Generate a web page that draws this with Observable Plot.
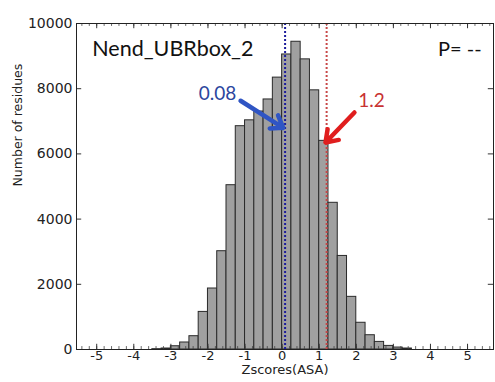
<!DOCTYPE html>
<html>
<head>
<meta charset="utf-8">
<script src="https://cdn.jsdelivr.net/npm/d3@7"></script>
<script src="https://cdn.jsdelivr.net/npm/@observablehq/plot@0.6"></script>
<style>
  html, body { margin: 0; padding: 0; background: #fff; }
  #chart { width: 495px; height: 382px; }
</style>
</head>
<body>
<div id="chart"></div>
<script>
// Histogram bins (left edges, width 0.25) and counts
const binStarts = [-3.5, -3.25, -3, -2.75, -2.5, -2.25, -2, -1.75, -1.5, -1.25,
                   -1, -0.75, -0.5, -0.25, 0, 0.25, 0.5, 0.75, 1, 1.25,
                   1.5, 1.75, 2, 2.25, 2.5, 2.75, 3, 3.25];
const counts = [10, 30, 100, 215, 408, 1153, 1871, 3015, 5040, 6850,
                7030, 7300, 7670, 8340, 9050, 9440, 8900, 7950, 6400, 4500,
                2870, 1615, 820, 438, 233, 110, 60, 30];
const binWidth = 0.25;

const xTicks = [-5, -4, -3, -2, -1, 0, 1, 2, 3, 4, 5];
const yTicks = [0, 2000, 4000, 6000, 8000, 10000];

const title = "Nend_UBRbox_2";
const pText = "P= --";
const markers = [
  {value: 0.08, label: "0.08", color: "#1c1c9c", textColor: "#2b469e", arrowColor: "#2f55c4",
   tx: -1.74, ty: 7850, ax1: -1.12, ay1: 7630, ax2: 0.03, ay2: 6800},
  {value: 1.2, label: "1.2", color: "#c84848", textColor: "#c83232", arrowColor: "#e01e1e",
   tx: 2.41, ty: 7630, ax1: 1.95, ay1: 7270, ax2: 1.17, ay2: 6350}
];

const xDomain = [-5.545, 5.70];
const yDomain = [0, 10000];

const bins = binStarts.map((b, i) => ({x1: b, x2: b + binWidth, count: counts[i]}));
const minorTicks = d3.range(-27, 29).map(i => +(i * 0.2).toFixed(1));

const labelFont = "Lato, 'Open Sans', sans-serif";

const chart = Plot.plot({
  width: 495,
  height: 382,
  marginLeft: 76,
  marginRight: 2,
  marginTop: 23,
  marginBottom: 33,
  style: {fontFamily: "DejaVu Sans, sans-serif", fontSize: "14px", color: "#222", background: "#fff"},
  x: {type: "linear", domain: xDomain},
  y: {type: "linear", domain: yDomain},
  marks: [
    Plot.rectY(bins, {x1: "x1", x2: "x2", y: "count", fill: "#a0a0a0", stroke: "#2a2a2a", strokeWidth: 1}),
    // minor ticks (inward) bottom & top
    Plot.ruleX(minorTicks, {x: d => d, y1: 0, y2: 90, stroke: "#444", strokeWidth: 0.8}),
    Plot.ruleX(minorTicks, {x: d => d, y1: 10000, y2: 10000 - 90, stroke: "#444", strokeWidth: 0.8}),
    // major x ticks (inward)
    Plot.ruleX(xTicks, {x: d => d, y1: 0, y2: 160, stroke: "#333"}),
    Plot.ruleX(xTicks, {x: d => d, y1: 10000, y2: 10000 - 160, stroke: "#333"}),
    // major y ticks (inward) left & right
    Plot.ruleY(yTicks, {y: d => d, x1: xDomain[0], x2: xDomain[0] + 0.14, stroke: "#333"}),
    Plot.ruleY(yTicks, {y: d => d, x1: xDomain[1], x2: xDomain[1] - 0.14, stroke: "#333"}),
    // marker lines
    Plot.ruleX(markers, {x: "value", stroke: "color", strokeWidth: 2, strokeDasharray: "2,2"}),
    Plot.frame({stroke: "#222", strokeWidth: 1}),
    Plot.axisX({ticks: xTicks, tickSize: 0, tickPadding: 1, tickFormat: d => String(d), label: null, fontSize: 13, fill: "#222"}),
    Plot.axisY({ticks: yTicks, tickSize: 0, tickPadding: 4, tickFormat: d => String(d), label: null, fontSize: 14, fill: "#222"}),
    // arrows
    Plot.arrow(markers, {x1: "ax1", y1: "ay1", x2: "ax2", y2: "ay2", stroke: "arrowColor", strokeWidth: 4.5, headLength: 4.5, headAngle: 70}),
    // marker labels
    Plot.text(markers, {x: "tx", y: "ty", text: "label", fill: "textColor", fontSize: 19, fontFamily: labelFont}),
    // title and P
    Plot.text([title], {x: -5.12, y: 9200, text: d => d, textAnchor: "start", fontSize: 21.5, fontFamily: labelFont, fill: "#111"}),
    Plot.text([pText], {x: 5.38, y: 9200, text: d => d, textAnchor: "end", fontSize: 20, fontFamily: labelFont, fill: "#111"}),
    // axis labels
    Plot.text(["Zscores(ASA)"], {frameAnchor: "bottom", text: d => d, dy: 24.5, fontSize: 13, fill: "#222"}),
    Plot.text(["Number of residues"], {frameAnchor: "left", text: d => d, dx: -59, rotate: -90, fontSize: 12.5, fill: "#222"})
  ]
});
document.getElementById("chart").appendChild(chart);
</script>
</body>
</html>
